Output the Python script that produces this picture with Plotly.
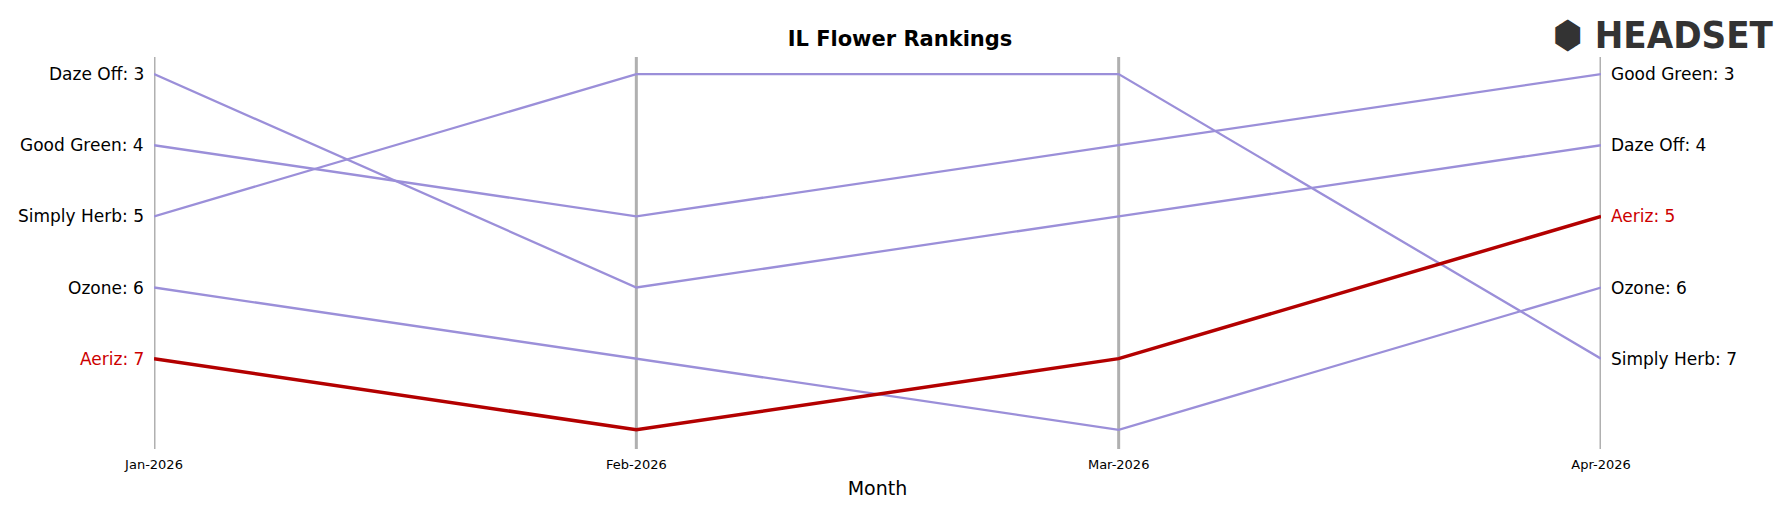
import plotly.graph_objects as go

months = ["Jan-2026", "Feb-2026", "Mar-2026", "Apr-2026"]
brands = ["Daze Off", "Good Green", "Simply Herb", "Ozone", "Aeriz"]
ranks = {
    "Daze Off": [3, 6, 5, 4],
    "Good Green": [4, 5, 4, 3],
    "Simply Herb": [5, 3, 3, 7],
    "Ozone": [6, 7, 8, 6],
    "Aeriz": [7, 8, 7, 5],
}
highlight = "Aeriz"
xs = list(range(len(months)))

fig = go.Figure()
for b in brands:
    hl = b == highlight
    fig.add_trace(go.Scatter(x=xs, y=ranks[b], mode="lines",
        line=dict(color="#b30000" if hl else "#9b8fd9", width=3.5 if hl else 2.3),
        showlegend=False))
for x in xs:
    fig.add_shape(type="line", x0=x, x1=x, y0=0, y1=1, yref="paper",
                  line=dict(color="#b0b0b0", width=3), layer="below")
for b in brands:
    col = "#cc0000" if b == highlight else "black"
    fig.add_annotation(x=0, y=ranks[b][0], text=f"{b}: {ranks[b][0]}", xanchor="right",
                       xshift=-8, showarrow=False, font=dict(size=17, color=col))
    fig.add_annotation(x=3, y=ranks[b][-1], text=f"{b}: {ranks[b][-1]}", xanchor="left",
                       xshift=8, showarrow=False, font=dict(size=17, color=col))
fig.add_annotation(x=1, xref="paper", xanchor="left", y=1.0, yref="paper", yanchor="middle",
                   text="<b>⬢ HEADSET</b>", showarrow=False, xshift=-50, yshift=22,
                   font=dict(size=38, color="#333333", family="Liberation Sans Narrow, DejaVu Sans Condensed, sans-serif"))

fig.update_layout(
    width=1784, height=507, plot_bgcolor="white", paper_bgcolor="white",
    margin=dict(l=146, r=191, t=49, b=66),
    font=dict(family="DejaVu Sans", color="black"),
    title=dict(text="<b>IL Flower Rankings</b>", x=0.5, xanchor="center", y=0.94, yanchor="middle",
               font=dict(size=21)),
    xaxis=dict(tickvals=xs, ticktext=months, range=[0, 3], showgrid=False, zeroline=False,
               title=dict(text="Month", font=dict(size=19), standoff=10), tickfont=dict(size=13),
               ticks="", showline=False, ticklabelstandoff=6),
    yaxis=dict(range=[8.27, 2.76], showticklabels=False, showgrid=False, zeroline=False, showline=False),
)
fig.write_html("out.html")
